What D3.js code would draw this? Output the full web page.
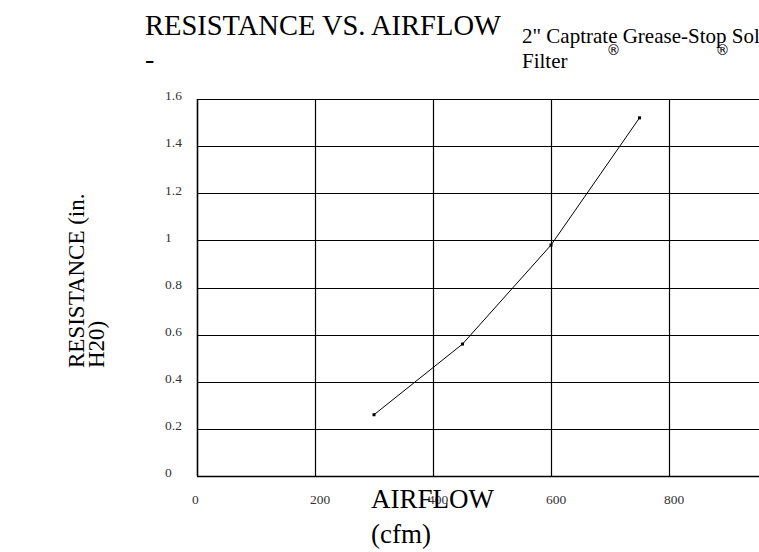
<!DOCTYPE html>
<html>
<head>
<meta charset="utf-8">
<script src="https://d3js.org/d3.v7.min.js"></script>
<style>
  body { margin: 0; background: #fff; }
  svg { display: block; font-family: "Liberation Serif", "DejaVu Serif", serif; }
</style>
</head>
<body>
<svg id="canvas"></svg>
<script>
"use strict"

// Chart data
const airflow = [300, 450, 600, 750];
const resistance = [0.26, 0.56, 0.98, 1.52];
const xTicks = [0, 200, 400, 600, 800, 1000];
const yTicks = [0, 0.2, 0.4, 0.6, 0.8, 1, 1.2, 1.4, 1.6];
const titleText = "RESISTANCE VS. AIRFLOW";
const subtitleLines = ["2\" Captrate Grease-Stop Solo", "Filter"];
const registeredAfter = ["Captrate", "Grease-Stop"];
const yTitleLines = ["RESISTANCE (in.", "H20)"];
const xTitleLines = ["AIRFLOW", "(cfm)"];

const canvasWidth = 759;
const canvasHeight = 552;

const canvas = d3.select("#canvas")
    .attr("width", canvasWidth)
    .attr("height", canvasHeight);

// Scales
const x = d3.scaleLinear().domain([0, 1000]).range([197, 787]);
const y = d3.scaleLinear().domain([0, 1.6]).range([476, 99]);

// Horizontal grid lines
canvas.append("g")
    .selectAll("line")
    .data(yTicks)
    .enter()
    .append("line")
    .attr("x1", x(0))
    .attr("x2", x(1000))
    .attr("y1", d => Math.round(y(d)) + 0.5)
    .attr("y2", d => Math.round(y(d)) + 0.5)
    .attr("stroke", "#000")
    .attr("stroke-width", d => d === 0 ? 1.6 : 1.2);

// Vertical grid lines
canvas.append("g")
    .selectAll("line")
    .data(xTicks)
    .enter()
    .append("line")
    .attr("x1", d => Math.round(x(d)) + 0.5)
    .attr("x2", d => Math.round(x(d)) + 0.5)
    .attr("y1", y(1.6))
    .attr("y2", y(0))
    .attr("stroke", "#000")
    .attr("stroke-width", d => d === 0 ? 1.6 : 1.2);

// Y tick labels
canvas.append("g")
    .selectAll("text")
    .data(yTicks)
    .enter()
    .append("text")
    .attr("x", 165)
    .attr("y", d => y(d) - 3)
    .attr("dy", "0.32em")
    .attr("font-size", 13.5)
    .attr("fill", "#333")
    .text(d => d3.format("")(d));

// X tick labels
canvas.append("g")
    .selectAll("text")
    .data(xTicks.filter(d => d < 1000))
    .enter()
    .append("text")
    .attr("x", d => x(d) - 5)
    .attr("y", 500)
    .attr("dy", "0.32em")
    .attr("font-size", 13.5)
    .attr("fill", "#333")
    .text(d => d);

// Data line
const line = d3.line()
    .x((d, i) => x(airflow[i]))
    .y(d => y(d));

canvas.append("path")
    .datum(resistance)
    .attr("fill", "none")
    .attr("stroke", "#000")
    .attr("stroke-width", 1)
    .attr("d", line);

// Point markers
canvas.append("g")
    .selectAll("rect")
    .data(resistance)
    .enter()
    .append("rect")
    .attr("x", (d, i) => x(airflow[i]) - 1.5)
    .attr("y", d => y(d) - 1.5)
    .attr("width", 3)
    .attr("height", 3)
    .attr("fill", "#000");

// Title
canvas.append("text")
    .attr("x", 145)
    .attr("y", 35)
    .attr("font-size", 28.5)
    .text(titleText);

canvas.append("text")
    .attr("x", 145)
    .attr("y", 68)
    .attr("font-size", 28)
    .text("-");

// Subtitle
const subtitle = canvas.append("g");
subtitleLines.forEach((s, i) => {
    subtitle.append("text")
        .attr("x", 522)
        .attr("y", 43 + i * 25)
        .attr("font-size", 21)
        .text(s);
});

// Registered marks under the product names
const firstLine = subtitle.select("text").node();
registeredAfter.forEach(word => {
    const idx = subtitleLines[0].indexOf(word) + word.length;
    const endX = 522 + firstLine.getSubStringLength(0, idx);
    canvas.append("text")
        .attr("x", endX - 4)
        .attr("y", 55)
        .attr("text-anchor", "middle")
        .attr("font-family", "DejaVu Sans")
        .attr("font-size", 14)
        .text("®");
});

// Y axis title
const yTitle = canvas.append("text")
    .attr("transform", "translate(84,368) rotate(-90)")
    .attr("font-size", 23);
yTitleLines.forEach((s, i) => {
    yTitle.append("tspan")
        .attr("x", 0)
        .attr("y", i * 20)
        .text(s);
});

// X axis title
xTitleLines.forEach((s, i) => {
    canvas.append("text")
        .attr("x", 371)
        .attr("y", 508 + i * 35)
        .attr("font-size", 27)
        .text(s);
});
</script>
</body>
</html>
